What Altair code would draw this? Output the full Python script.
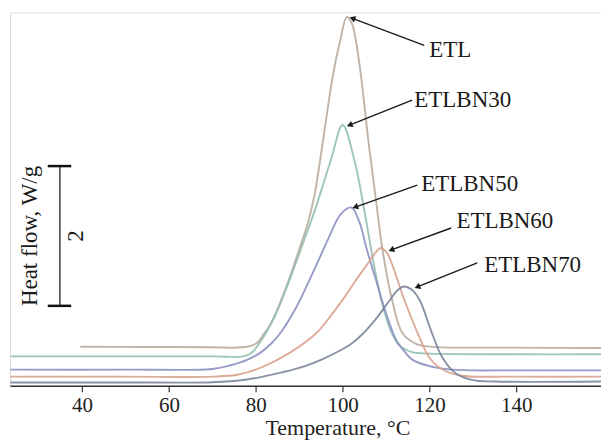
import altair as alt
import pandas as pd
import math

# ---- data (temperature in °C, heat flow in W/g, arbitrary offset) ----
etl_t = [39.6, 55, 70, 77, 80, 82, 84, 86, 88, 90, 92, 93.5, 95.4, 97.7, 99.3, 101.0, 102.2, 103.1, 104.2, 106.0, 107.8, 109.2, 111.5, 113.8, 116.9, 120, 140, 159.5]
etl_v = [0.557, 0.555, 0.55, 0.55, 0.6, 0.75, 0.95, 1.25, 1.58, 1.95, 2.33, 2.72, 3.47, 4.42, 4.9, 5.28, 5.17, 4.92, 4.45, 3.47, 2.6, 1.94, 1.2, 0.75, 0.6, 0.56, 0.545, 0.54]

bn30_t = [23.5, 50, 70, 77, 79, 82, 85, 88, 91, 93.6, 97.3, 100.0, 102.7, 105.0, 107, 109, 111, 113, 116, 120, 140, 159.5]
bn30_v = [0.42, 0.42, 0.42, 0.42, 0.47, 0.72, 1.08, 1.55, 2.06, 2.51, 3.23, 3.73, 3.23, 2.51, 1.8, 1.2, 0.8, 0.58, 0.48, 0.46, 0.45, 0.45]

bn50_t = [23.5, 50, 70, 74, 78, 81, 83.5, 85.5, 89.3, 93.1, 96.9, 99.5, 102.0, 104, 105.4, 107.7, 110, 112.3, 114.5, 116.1, 120, 125, 140, 159.5]
bn50_v = [0.23, 0.23, 0.24, 0.29, 0.37, 0.47, 0.6, 0.74, 1.12, 1.61, 2.13, 2.45, 2.55, 2.32, 1.99, 1.51, 1.04, 0.66, 0.47, 0.37, 0.28, 0.23, 0.22, 0.22]

bn60_t = [23.5, 50, 70, 76, 81.6, 87.8, 93.9, 97.5, 100.8, 103.5, 105.8, 107.5, 108.8, 110.2, 111.5, 114.2, 117.3, 119.5, 121.1, 124, 128, 140, 159.5]
bn60_v = [0.13, 0.13, 0.13, 0.16, 0.27, 0.47, 0.75, 1.02, 1.3, 1.55, 1.75, 1.9, 1.97, 1.9, 1.72, 1.23, 0.75, 0.45, 0.32, 0.2, 0.14, 0.13, 0.13]

bn70_t = [23.5, 50, 70, 78, 82.4, 86, 90.8, 95, 99.3, 102, 104.6, 108.1, 110.8, 112.7, 114.2, 115.8, 117.7, 120.3, 123, 126, 130, 135, 159.5]
bn70_v = [0.047, 0.047, 0.05, 0.09, 0.14, 0.19, 0.27, 0.37, 0.5, 0.6, 0.74, 0.99, 1.22, 1.37, 1.42, 1.38, 1.23, 0.8, 0.4, 0.18, 0.08, 0.06, 0.06]

series_names = ["ETL", "ETLBN30", "ETLBN50", "ETLBN60", "ETLBN70"]
series_t = [etl_t, bn30_t, bn50_t, bn60_t, bn70_t]
series_v = [etl_v, bn30_v, bn50_v, bn60_v, bn70_v]
series_colors = ["#b9ab9f", "#92bfb0", "#8c90c2", "#d9a38e", "#7c869c"]

# annotation labels and arrows (text anchor, arrow start, arrow tip) in data units
label_t = [119.95, 116.5, 118.1, 126.2, 132.6]
label_v = [4.70, 3.986, 2.786, 2.257, 1.629]
arrow_t0 = [118.8, 116.0, 117.2, 125.0, 131.0]
arrow_v0 = [4.87, 4.086, 2.87, 2.257, 1.757]
arrow_t1 = [102.25, 101.6, 102.9, 111.2, 117.2]
arrow_v1 = [5.257, 3.73, 2.557, 1.943, 1.414]

# scale bar: 2 W/g
bar_t = 34.9
bar_v0 = 1.143
bar_v1 = 3.143
bar_cap_t0 = 32.1
bar_cap_t1 = 37.5

x_ticks = [40, 60, 80, 100, 120, 140]
x_domain = [23.4, 159.5]
y_domain = [0, 5.343]

W, H = 592, 374
FONT = "Liberation Serif"

rows = []
for n, ts, vs in zip(series_names, series_t, series_v):
    for t, v in zip(ts, vs):
        rows.append({"name": n, "T": t, "V": v})
curves = pd.DataFrame(rows)

xs = alt.Scale(domain=x_domain, nice=False, zero=False)
ys = alt.Scale(domain=y_domain, nice=False, zero=False)

lines = alt.Chart(curves).mark_line(strokeWidth=1.9, interpolate="catmull-rom", opacity=0.9, clip=True).encode(
    x=alt.X("T:Q", scale=xs,
            axis=alt.Axis(values=x_ticks, grid=False, title="Temperature, °C",
                          labelFont=FONT, labelFontSize=21, labelColor="#222",
                          titleFont=FONT, titleFontSize=22, titleFontWeight="normal", titleColor="#222",
                          titleX=328, titleAlign="center", titlePadding=2,
                          domainColor="#333", domainWidth=1.5, tickColor="#333", tickSize=6, tickWidth=1.2,
                          labelPadding=3)),
    y=alt.Y("V:Q", scale=ys, axis=None),
    color=alt.Color("name:N", scale=alt.Scale(domain=series_names, range=series_colors), legend=None),
    detail="name:N",
)

# px per unit for arrowhead angles
px_per_t = W / (x_domain[1] - x_domain[0])
px_per_v = H / (y_domain[1] - y_domain[0])
angles = []
for a0, b0, a1, b1 in zip(arrow_t0, arrow_v0, arrow_t1, arrow_v1):
    dx = (a1 - a0) * px_per_t
    dy = -(b1 - b0) * px_per_v
    angles.append(math.degrees(math.atan2(dx, -dy)) % 360)

ann = pd.DataFrame({
    "name": series_names, "lt": label_t, "lv": label_v,
    "t0": arrow_t0, "v0": arrow_v0, "t1": arrow_t1, "v1": arrow_v1, "ang": angles,
})

arrow_lines = alt.Chart(ann).mark_rule(color="#1a1a1a", strokeWidth=1.4).encode(
    x=alt.X("t0:Q", scale=xs), x2="t1:Q",
    y=alt.Y("v0:Q", scale=ys), y2="v1:Q",
)
arrow_heads = alt.Chart(ann).mark_point(shape="triangle-up", filled=True, color="#1a1a1a", size=45, opacity=1).encode(
    x=alt.X("t1:Q", scale=xs), y=alt.Y("v1:Q", scale=ys),
    angle=alt.Angle("ang:Q", scale=None),
)
labels = alt.Chart(ann).mark_text(font=FONT, fontSize=23, align="left", baseline="alphabetic", color="#1a1a1a").encode(
    x=alt.X("lt:Q", scale=xs), y=alt.Y("lv:Q", scale=ys), text="name:N",
)

bar_df = pd.DataFrame({"t": [bar_t], "v0": [bar_v0], "v1": [bar_v1],
                       "c0": [bar_cap_t0], "c1": [bar_cap_t1]})
bar = alt.Chart(bar_df).mark_rule(color="#222", strokeWidth=1.3).encode(
    x=alt.X("t:Q", scale=xs), y=alt.Y("v0:Q", scale=ys), y2="v1:Q")
cap_top = alt.Chart(bar_df).mark_rule(color="#111", strokeWidth=2.5).encode(
    x=alt.X("c0:Q", scale=xs), x2="c1:Q", y=alt.Y("v1:Q", scale=ys))
cap_bot = alt.Chart(bar_df).mark_rule(color="#111", strokeWidth=2.5).encode(
    x=alt.X("c0:Q", scale=xs), x2="c1:Q", y=alt.Y("v0:Q", scale=ys))

ylab_df = pd.DataFrame({"t": [28.0, 38.6], "v": [(bar_v0 + bar_v1) / 2, (bar_v0 + bar_v1) / 2],
                        "txt": ["Heat flow, W/g", "2"]})
ylab = alt.Chart(ylab_df).mark_text(font=FONT, fontSize=23, angle=270, align="center", baseline="middle", color="#1a1a1a").encode(
    x=alt.X("t:Q", scale=xs), y=alt.Y("v:Q", scale=ys), text="txt:N")

chart = alt.layer(lines, arrow_lines, arrow_heads, labels, bar, cap_top, cap_bot, ylab).properties(
    width=W, height=H,
    autosize=alt.AutoSizeParams(type="none"),
    padding={"left": 10, "top": 12, "right": 0, "bottom": 55},
).configure_view(stroke="#333", strokeWidth=1.5).configure(background="white")

chart.save("out.html", embed_options={"renderer": "svg", "actions": False})
